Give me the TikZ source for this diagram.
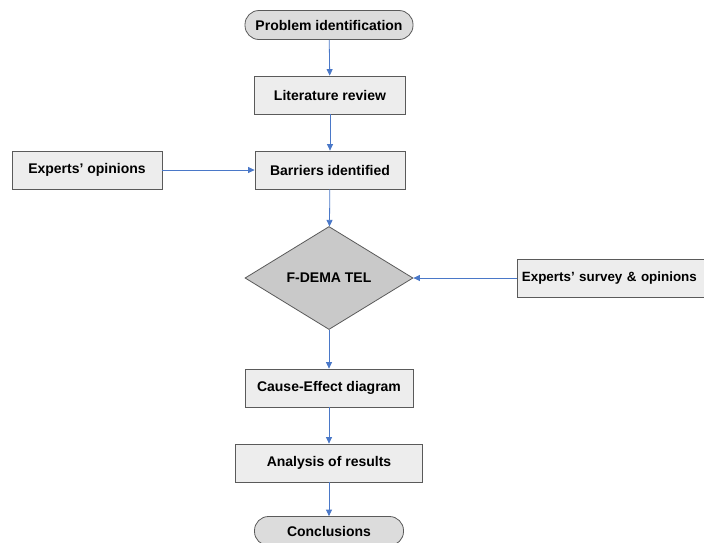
\documentclass[tikz,border=0pt]{standalone}
\usepackage{fontspec}
\setmainfont{Liberation Sans}
\usetikzlibrary{shapes.geometric,arrows.meta}
\definecolor{flow}{HTML}{4A78C8}
\definecolor{edge}{HTML}{5A5A5A}
\definecolor{boxfill}{HTML}{EDEDED}
\definecolor{termfill}{HTML}{DCDCDC}
\definecolor{diafill}{HTML}{C9C9C9}
\tikzset{
  stepbox/.style={draw=edge, line width=0.8pt, fill=boxfill, minimum height=38, inner sep=0pt,
    font=\fontsize{14}{16}\selectfont\bfseries},
  term/.style={draw=edge, line width=0.8pt, fill=termfill, rounded corners=14, minimum height=29, inner sep=0pt,
    font=\fontsize{14}{16}\selectfont\bfseries},
  decision/.style={diamond, draw=edge, line width=0.8pt, fill=diafill, minimum width=168, minimum height=103, inner sep=0pt,
    font=\fontsize{14}{16}\selectfont\bfseries},
  flowarrow/.style={draw=flow, line width=0.8pt, -{Triangle[width=6pt,length=6.5pt]}}
}
\begin{document}
\begin{tikzpicture}[x=1pt,y=-1pt]
\clip (0,0) rectangle (704,542);
\fill[white] (0,0) rectangle (704,542);
\node[term, minimum width=168] (prob) at (329,25) {Problem identification};
\node[stepbox, minimum width=151] (lit) at (330,95) {Literature review};
\node[stepbox, minimum width=150] (bar) at (330,170) {Barriers identified};
\node[stepbox, minimum width=150] (exp) at (87,170) {Experts’ opinions};
\node[decision] (fd) at (329,278) {F-DEMA TEL};
\node[stepbox, anchor=west, inner xsep=4.5pt, text width=195, align=left, font=\fontsize{13.4}{16}\selectfont\bfseries] (surv) at (517,278) {Experts’ survey \& opinions};
\node[stepbox, minimum width=168] (ce) at (329,388) {Cause-Effect diagram};
\node[stepbox, minimum width=187] (ana) at (329,463) {Analysis of results};
\node[term, minimum width=149] (conc) at (329,531) {Conclusions};
\draw[flowarrow] (prob) -- (lit);
\draw[flowarrow] (lit) -- (bar);
\draw[flowarrow] (exp) -- (bar);
\draw[flowarrow] (bar) -- (fd);
\draw[flowarrow] (surv) -- (fd);
\draw[flowarrow] (fd) -- (ce);
\draw[flowarrow] (ce) -- (ana);
\draw[flowarrow] (ana) -- (conc);
\end{tikzpicture}
\end{document}
